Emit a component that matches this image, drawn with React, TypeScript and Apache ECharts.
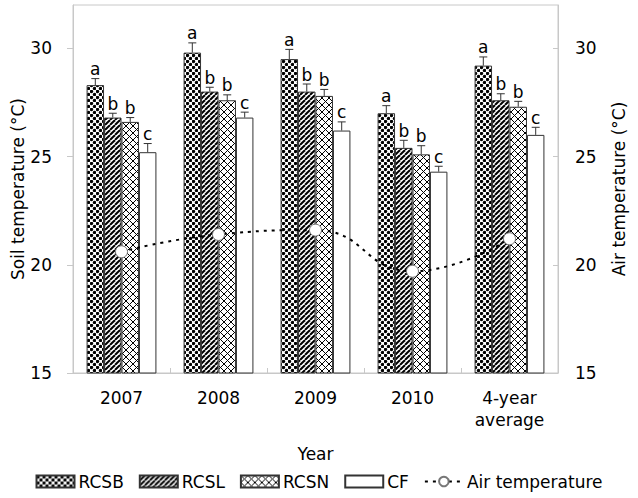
import React, { useEffect, useRef } from "react";
import * as echarts from "echarts";

const categories = ["2007", "2008", "2009", "2010", "4-year\naverage"];
const seriesNames = ["RCSB", "RCSL", "RCSN", "CF"];
const rcsb = [28.3, 29.8, 29.5, 27.0, 29.2];
const rcsbErr = [0.3, 0.45, 0.45, 0.35, 0.4];
const rcsl = [26.8, 28.0, 28.0, 25.4, 27.6];
const rcslErr = [0.2, 0.2, 0.35, 0.35, 0.3];
const rcsn = [26.6, 27.6, 27.8, 25.1, 27.3];
const rcsnErr = [0.2, 0.25, 0.3, 0.4, 0.25];
const cf = [25.2, 26.8, 26.2, 24.3, 26.0];
const cfErr = [0.4, 0.25, 0.4, 0.25, 0.35];
const airTemp = [20.6, 21.4, 21.6, 19.7, 21.2];
const rcsbLetters = ["a", "a", "a", "a", "a"];
const rcslLetters = ["b", "b", "b", "b", "b"];
const rcsnLetters = ["b", "b", "b", "b", "b"];
const cfLetters = ["c", "c", "c", "c", "c"];
const yTicks = [15, 20, 25, 30];

const FONT = "DejaVu Sans";
const CAT_GAP = 0.28;

function makePattern(kind: string) {
  const size = kind === "dots" ? 6 : kind === "stripes" ? 5 : 7;
  const c = document.createElement("canvas");
  c.width = size;
  c.height = size;
  const ctx = c.getContext("2d")!;
  ctx.fillStyle = "#fff";
  ctx.fillRect(0, 0, size, size);
  ctx.fillStyle = "#000";
  ctx.strokeStyle = "#000";
  if (kind === "dots") {
    const pts = [
      [1.5, 1.5],
      [4.5, 4.5],
    ];
    pts.forEach(([x, y]) => {
      ctx.beginPath();
      ctx.arc(x, y, 1.7, 0, Math.PI * 2);
      ctx.fill();
    });
  } else if (kind === "stripes") {
    ctx.lineWidth = 2;
    for (const x0 of [-size, 0, size]) {
      ctx.beginPath();
      ctx.moveTo(x0, size);
      ctx.lineTo(x0 + size, 0);
      ctx.stroke();
    }
  } else {
    for (let i = 0; i < size; i++) {
      ctx.fillRect(i, i, 1, 1);
      ctx.fillRect(size - 1 - i, i, 1, 1);
    }
  }
  return {
    image: c.toDataURL(),
    repeat: "repeat",
    imageWidth: size,
    imageHeight: size,
  } as any;
}

function errSeries(idx: number, vals: number[], errs: number[], letters: string[]) {
  return {
    type: "custom",
    name: "err" + idx,
    xAxisIndex: 0,
    yAxisIndex: 0,
    z: 6,
    silent: true,
    encode: { x: 0, y: 1 },
    data: vals.map((v, i) => [i, v, errs[i]]),
    renderItem: (params: any, api: any) => {
      const ci = api.value(0);
      const v = api.value(1);
      const e = api.value(2);
      const center = api.coord([ci, v]);
      const band = api.size([1, 0])[0];
      const barW = (band * (1 - CAT_GAP)) / 4;
      const x = center[0] - 2 * barW + (idx + 0.5) * barW;
      const top = api.coord([ci, v + e])[1];
      const base = center[1];
      return {
        type: "group",
        children: [
          {
            type: "line",
            shape: { x1: x, y1: base, x2: x, y2: top },
            style: { stroke: "#333", lineWidth: 1 },
          },
          {
            type: "line",
            shape: { x1: x - 4, y1: top, x2: x + 4, y2: top },
            style: { stroke: "#333", lineWidth: 1 },
          },
          {
            type: "text",
            x: x,
            y: top - 1,
            style: {
              text: letters[params.dataIndex],
              textAlign: "center",
              textVerticalAlign: "bottom",
              font: `17px "${FONT}"`,
              fill: "#000",
            },
          },
        ],
      };
    },
  };
}

export default function App() {
  const ref = useRef<HTMLDivElement>(null);
  useEffect(() => {
    if (!ref.current) return;
    document.body.style.margin = "0";
    const chart = echarts.init(ref.current, undefined, { renderer: "svg" });
    const patterns = [makePattern("dots"), makePattern("stripes"), makePattern("cross"), "#fff"];
    const barData = [rcsb, rcsl, rcsn, cf];
    const errData = [rcsbErr, rcslErr, rcsnErr, cfErr];
    const letterData = [rcsbLetters, rcslLetters, rcsnLetters, cfLetters];

    const axisLineStyle = { color: "#c8c8c8", width: 1 };
    const yAxisCommon = {
      type: "value",
      min: 15,
      max: 32,
      interval: 5,
      splitLine: { show: false },
      axisLine: { show: true, lineStyle: axisLineStyle },
      nameLocation: "middle",
      nameRotate: 90,
      nameMoveOverlap: false,
      nameTextStyle: { fontFamily: FONT, fontSize: 17, color: "#000" },
    };

    const option: any = {
      animation: false,
      textStyle: { fontFamily: FONT },
      grid: {
        left: 73,
        right: 80,
        top: 5,
        bottom: 125,
        show: true,
        borderColor: "#c8c8c8",
        borderWidth: 1,
        backgroundColor: "transparent",
      },
      legend: {
        bottom: 3,
        left: "center",
        itemWidth: 38,
        itemHeight: 12,
        itemGap: 15,
        data: [
          { name: "RCSB", icon: "rect" },
          { name: "RCSL", icon: "rect" },
          { name: "RCSN", icon: "rect" },
          { name: "CF", icon: "rect" },
          { name: "Air temperature" },
        ],
        textStyle: { fontFamily: FONT, fontSize: 17, color: "#000", padding: [0, 0, 0, -1] },
      },
      xAxis: {
        type: "category",
        data: categories,
        name: "Year",
        nameLocation: "middle",
        nameGap: 72,
        nameMoveOverlap: false,
        nameTextStyle: { fontFamily: FONT, fontSize: 17, color: "#000" },
        axisLine: { show: true, lineStyle: axisLineStyle },
        axisTick: { show: true, inside: true, length: 5, lineStyle: axisLineStyle },
        axisLabel: { fontFamily: FONT, fontSize: 17, color: "#000", margin: 14, lineHeight: 22 },
      },
      yAxis: [
        {
          ...yAxisCommon,
          position: "left",
          name: "Soil temperature (°C)",
          nameGap: 47,
          axisTick: { show: true, inside: false, length: 6, lineStyle: axisLineStyle, customValues: yTicks },
          axisLabel: { fontFamily: FONT, fontSize: 17, color: "#000", margin: 21, customValues: yTicks },
        },
        {
          ...yAxisCommon,
          position: "right",
          name: "Air temperature (°C)",
          nameGap: 52,
          axisTick: { show: true, inside: true, length: 5, lineStyle: axisLineStyle, customValues: yTicks },
          axisLabel: { fontFamily: FONT, fontSize: 17, color: "#000", margin: 17, customValues: yTicks },
        },
      ],
      series: [
        ...barData.map((d, i) => ({
          type: "bar",
          name: seriesNames[i],
          data: d,
          barGap: "0%",
          barCategoryGap: CAT_GAP * 100 + "%",
          itemStyle: { color: patterns[i], borderColor: "#333", borderWidth: 1 },
          z: 2,
        })),
        ...barData.map((d, i) => errSeries(i, d, errData[i], letterData[i])),
        {
          type: "line",
          name: "Air temperature",
          yAxisIndex: 1,
          data: airTemp,
          smooth: 0.5,
          symbol: "circle",
          symbolSize: 12,
          z: 10,
          lineStyle: { color: "#000", width: 2, type: [3, 5] },
          itemStyle: { color: "#fff", borderColor: "#777", borderWidth: 1 },
        },
      ],
    };
    chart.setOption(option);
    return () => chart.dispose();
  }, []);
  return <div ref={ref} style={{ width: 638, height: 498 }} />;
}
